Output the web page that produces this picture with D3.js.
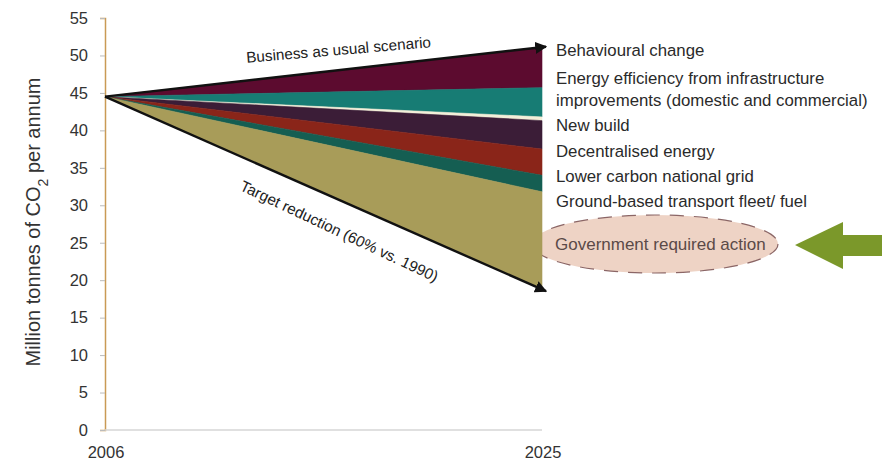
<!DOCTYPE html>
<html>
<head>
<meta charset="utf-8">
<script src="https://cdn.jsdelivr.net/npm/d3@7"></script>
<style>
  html, body { margin: 0; padding: 0; background: #fff; }
  svg { display: block; font-family: "Liberation Sans", Arial, sans-serif; }
</style>
</head>
<body>
<svg id="chart" width="882" height="462"></svg>
<script>
// Emissions pathway 2006-2025 (million tonnes CO2 per annum)
const years = [2006, 2025];
const startValue = 44.5;        // emissions in 2006
const businessAsUsual = 51.1;   // 2025 if nothing changes
const targetValue = 18.8;       // 2025 target (60% vs. 1990)

// Wedges, top to bottom, with their size in 2025
const wedgeNames = [
  "Behavioural change",
  "Energy efficiency from infrastructure improvements (domestic and commercial)",
  "New build",
  "Decentralised energy",
  "Lower carbon national grid",
  "Ground-based transport fleet/ fuel",
  "Government required action"
];
const wedgeSizes2025 = [5.4, 3.9, 0.5, 3.8, 3.5, 2.2, 13.0];
const wedgeColors = ["#5c0b2f", "#177c74", "#f3efd9", "#3b1d37", "#8a2519", "#155e52", "#a89c59"];

// Right-hand labels (lines per label)
const labelLines = [
  ["Behavioural change"],
  ["Energy efficiency from infrastructure", "improvements (domestic and commercial)"],
  ["New build"],
  ["Decentralised energy"],
  ["Lower carbon national grid"],
  ["Ground-based transport fleet/ fuel"]
];
const highlightLabel = "Government required action";
const yTicks = [0, 5, 10, 15, 20, 25, 30, 35, 40, 45, 50, 55];

const svg = d3.select("#chart");
const x = d3.scaleLinear().domain([2006, 2025]).range([105, 542]);
const y = d3.scaleLinear().domain([0, 55]).range([430, 18]);

// Highlight ellipse sits behind the wedges
svg.append("ellipse")
  .attr("cx", 655).attr("cy", 244).attr("rx", 123).attr("ry", 29)
  .attr("fill", "#eed3c5")
  .attr("stroke", "#8b6666").attr("stroke-width", 1.2)
  .attr("stroke-dasharray", "14 10");

// Build wedge boundaries: at 2006 every wedge has zero width
const wedges = [];
let top2025 = businessAsUsual;
wedgeNames.forEach((name, i) => {
  const bottom2025 = top2025 - wedgeSizes2025[i];
  wedges.push({
    name,
    color: wedgeColors[i],
    points: [
      { year: years[0], top: startValue, bottom: startValue },
      { year: years[1], top: top2025, bottom: bottom2025 }
    ]
  });
  top2025 = bottom2025;
});

const area = d3.area()
  .x(d => x(d.year))
  .y0(d => y(d.bottom))
  .y1(d => y(d.top));

svg.append("g").selectAll("path")
  .data(wedges)
  .join("path")
  .attr("d", d => area(d.points))
  .attr("fill", d => d.color)
  .attr("stroke", d => d.color)
  .attr("stroke-width", 0.6);

// Axes
const yAxis = svg.append("g")
  .attr("transform", `translate(${x(2006)},0)`)
  .call(d3.axisLeft(y).tickValues(yTicks).tickSize(5).tickPadding(12));
yAxis.select(".domain").attr("stroke", "#c99a55").attr("stroke-width", 1.5);
yAxis.selectAll(".tick line").attr("stroke", "#bbb");
yAxis.selectAll(".tick text")
  .attr("font-size", 16.5).attr("fill", "#333")
  .attr("font-family", "'Liberation Sans', Arial, sans-serif");

svg.append("line")
  .attr("x1", x(2006)).attr("x2", x(2025))
  .attr("y1", y(0)).attr("y2", y(0))
  .attr("stroke", "#d6d6d6").attr("stroke-width", 1.5);

svg.append("g").selectAll("text")
  .data(years)
  .join("text")
  .attr("x", d => x(d) + 1)
  .attr("y", 458)
  .attr("text-anchor", "middle")
  .attr("font-size", 16.5)
  .attr("fill", "#333")
  .text(d => d);

// Y axis title
svg.append("text")
  .attr("transform", `translate(40,${222}) rotate(-90)`)
  .attr("text-anchor", "middle")
  .attr("font-size", 20)
  .attr("fill", "#333")
  .call(t => {
    t.append("tspan").text("Million tonnes of CO");
    t.append("tspan").attr("baseline-shift", "sub").attr("font-size", 14).text("2");
    t.append("tspan").text(" per annum");
  });

// Scenario lines with arrowheads
const defs = svg.append("defs");
defs.append("marker")
  .attr("id", "arrow")
  .attr("viewBox", "0 0 10 10")
  .attr("refX", 9).attr("refY", 5)
  .attr("markerWidth", 5).attr("markerHeight", 5)
  .attr("orient", "auto")
  .append("path").attr("d", "M0,0 L10,5 L0,10 Z").attr("fill", "#111");

const scenarioEnds = [businessAsUsual, targetValue];
scenarioEnds.forEach(end => {
  svg.append("line")
    .attr("x1", x(years[0])).attr("y1", y(startValue))
    .attr("x2", x(years[1]) + 4).attr("y2", y(end) + (end > startValue ? -0.5 : 2))
    .attr("stroke", "#111").attr("stroke-width", 2.4)
    .attr("marker-end", "url(#arrow)");
});

// Line labels, rotated to follow their lines
const bauAngle = Math.atan2(y(businessAsUsual) - y(startValue), x(2025) - x(2006)) * 180 / Math.PI;
const tgtAngle = Math.atan2(y(targetValue) - y(startValue), x(2025) - x(2006)) * 180 / Math.PI;
svg.append("text")
  .attr("transform", `translate(339,55) rotate(${bauAngle + 1.6})`)
  .attr("text-anchor", "middle")
  .attr("font-size", 15.3).attr("fill", "#222")
  .text("Business as usual scenario");
svg.append("text")
  .attr("transform", `translate(337,236) rotate(${tgtAngle + 1.5})`)
  .attr("text-anchor", "middle")
  .attr("font-size", 15.3).attr("fill", "#222")
  .text("Target reduction (60% vs. 1990)");

// Right-hand wedge labels
const labelBaselines = [[56], [84, 106], [131], [157], [182], [207]];
const labels = svg.append("g").attr("font-size", 16.8).attr("fill", "#2a2a2a");
labelLines.forEach((lines, i) => {
  lines.forEach((line, j) => {
    labels.append("text")
      .attr("x", 556).attr("y", labelBaselines[i][j])
      .text(line);
  });
});

svg.append("text")
  .attr("x", 555).attr("y", 250)
  .attr("font-size", 17).attr("fill", "#5b4a48")
  .text(highlightLabel);

// Pointer arrow
svg.append("path")
  .attr("d", "M795,245 L843,222 L843,235 L882,235 L882,256 L843,256 L843,269 Z")
  .attr("fill", "#7b982a");
</script>
</body>
</html>
